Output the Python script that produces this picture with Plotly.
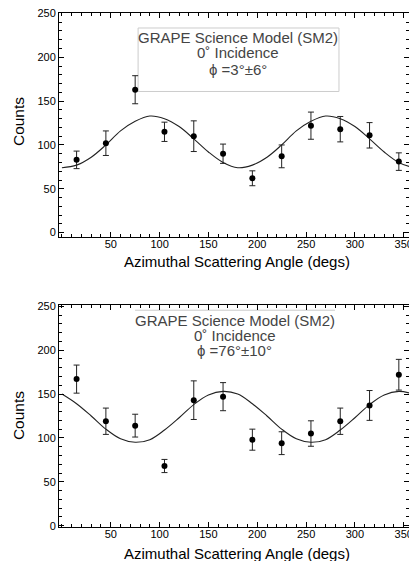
import plotly.graph_objects as go

# ---- data ----
angles = [15, 45, 75, 105, 135, 165, 195, 225, 255, 285, 315, 345]

top_counts = [83, 102, 163, 115, 110, 90, 62, 87, 122, 118, 111, 81]
top_errors = [10, 14, 16, 11, 17.5, 11, 8.5, 13, 15.5, 14.5, 14.5, 10]

bottom_counts = [167, 119, 114, 68, 143, 147, 98, 94, 105, 119, 137, 172]
bottom_errors = [16, 15, 13, 7.5, 22, 16, 12, 13, 14.5, 15, 17, 17.5]

curve_angles = [0, 15, 30, 45, 60, 75, 90, 105, 120, 135, 150, 165, 180,
                195, 210, 225, 240, 255, 270, 285, 300, 315, 330, 345, 360]
top_curve = [74, 77, 86, 100, 116, 127, 133, 130, 121, 107, 92, 80, 74,
             77, 86, 100, 116, 127, 133, 130, 121, 107, 92, 80, 74]
bottom_curve = [150, 139, 125, 110, 99, 95, 98, 109, 123, 138, 149, 153, 150,
                139, 125, 110, 99, 95, 98, 109, 123, 138, 149, 153, 150]

title_line1 = "GRAPE Science Model (SM2)"
title_line2 = "0\u02da Incidence"
top_phi = "\u03d5 =3\u00b0\u00b16\u00b0"
bottom_phi = "\u03d5 =76\u00b0\u00b110\u00b0"

x_ticks = [50, 100, 150, 200, 250, 300, 350]
y_ticks = [0, 50, 100, 150, 200, 250]

FONT = "Liberation Sans, Arial, sans-serif"

fig = go.Figure()

for xa, ya, cnt, err, curve in [("x", "y", top_counts, top_errors, top_curve),
                                ("x2", "y2", bottom_counts, bottom_errors, bottom_curve)]:
    fig.add_trace(go.Scatter(
        x=curve_angles, y=curve, mode="lines", xaxis=xa, yaxis=ya,
        line=dict(color="#222222", width=1.1, shape="spline"),
        showlegend=False, hoverinfo="skip"))
    fig.add_trace(go.Scatter(
        x=angles, y=cnt, mode="markers", xaxis=xa, yaxis=ya,
        marker=dict(color="black", size=6),
        error_y=dict(type="data", array=err, visible=True,
                     color="#222222", thickness=1, width=3),
        showlegend=False, cliponaxis=False))

axis_common = dict(
    showline=True, linecolor="black", linewidth=1, mirror="ticks",
    ticks="inside", ticklen=5, tickwidth=1, tickcolor="black",
    showgrid=False, zeroline=False, automargin=False,
    ticklabeloverflow="allow",
    tickfont=dict(family=FONT, size=11, color="black"),
)

xaxis_cfg = dict(axis_common, range=[-3, 355.4], tickmode="array", tickvals=x_ticks,
                 ticklabelstandoff=-3,
                 minor=dict(dtick=10, tick0=0, ticks="inside", ticklen=3,
                            tickcolor="black", tickwidth=1))
yaxis_cfg = dict(axis_common, tickmode="array", tickvals=y_ticks,
                 minor=dict(dtick=10, tick0=0, ticks="inside", ticklen=3,
                            tickcolor="black", tickwidth=1))

fig.update_layout(
    width=409, height=561,
    margin=dict(l=59, r=0, t=13, b=34, autoexpand=False),
    paper_bgcolor="white", plot_bgcolor="white",
    font=dict(family=FONT, color="black"),
    xaxis=dict(xaxis_cfg, domain=[0, 1], anchor="y"),
    yaxis=dict(yaxis_cfg, domain=[0.565, 1], range=[-4.5, 250.5], anchor="x"),
    xaxis2=dict(xaxis_cfg, domain=[0, 1], anchor="y2"),
    yaxis2=dict(yaxis_cfg, domain=[0, 0.432], range=[-1.5, 251.5], anchor="x2"),
)

ann_font = dict(family=FONT, size=15, color="#444444")
annotations = []
# top panel text
for txt, yv in [(title_line1, 223.1), (title_line2, 206.0), (top_phi, 186.6)]:
    annotations.append(dict(x=180.7, y=yv, xref="x", yref="y", text=txt,
                            showarrow=False, font=ann_font,
                            xanchor="center", yanchor="middle"))
# bottom panel text
for txt, yv in [(title_line1, 233.7), (title_line2, 216.3), (bottom_phi, 199.2)]:
    annotations.append(dict(x=176.8, y=yv, xref="x2", yref="y2", text=txt,
                            showarrow=False, font=ann_font,
                            xanchor="center", yanchor="middle"))
# axis titles
ax_font = dict(family=FONT, size=15, color="black")
for yv in [0.517, -0.0525]:
    annotations.append(dict(x=0.5097, y=yv, xref="paper", yref="paper",
                            text="Azimuthal Scattering Angle (degs)", showarrow=False,
                            font=ax_font, xanchor="center", yanchor="middle"))
for yv in [0.788, 0.216]:
    annotations.append(dict(x=-0.114, y=yv, xref="paper", yref="paper",
                            text="Counts", showarrow=False, textangle=-90,
                            font=dict(family=FONT, size=15.5, color="black"),
                            xanchor="center", yanchor="middle"))
fig.update_layout(annotations=annotations)

fig.add_shape(type="rect", xref="x", yref="y", x0=78, x1=283.7, y0=161, y1=233.4,
              line=dict(color="#cccccc", width=1), fillcolor="rgba(0,0,0,0)", layer="below")
fig.add_shape(type="line", xref="x2", yref="y2", x0=74.9, x1=279.6, y0=245.5, y1=245.5,
              line=dict(color="#cccccc", width=1), layer="below")

fig.write_html(
    "out.html",
    config={"displayModeBar": False},
    post_script="document.body.style.margin='0';document.body.style.overflow='hidden';",
)
